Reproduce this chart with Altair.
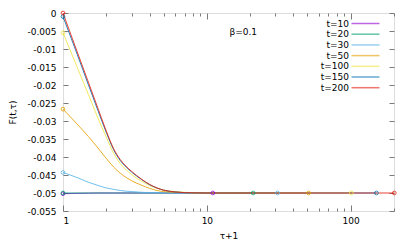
import altair as alt
import pandas as pd

# ---- data ----
t_values = [10, 20, 30, 50, 100, 150, 200]
series_labels = ["t=10", "t=20", "t=30", "t=50", "t=100", "t=150", "t=200"]
series_colors = ["#9400D3", "#009E73", "#56B4E9", "#E69F00", "#F0E442", "#0072B2", "#E51E10"]

# sampled tau+1 positions where the curves were read
x_samples = [1, 1.25, 1.5, 1.75, 2, 2.25, 2.5, 2.75, 3, 3.5, 4, 4.5, 5, 6, 7, 8, 10]

# F(t,tau) read at x_samples for each t; each curve then stays flat up to tau+1 = t+1
F_t10 = [-0.0502, -0.0501, -0.05005, -0.0500, -0.0500, -0.0500, -0.0500, -0.0500, -0.0500,
         -0.0500, -0.0500, -0.0500, -0.0500, -0.0500, -0.0500, -0.0500, -0.0500]
F_t20 = [-0.0500, -0.0500, -0.0500, -0.0500, -0.0500, -0.0500, -0.0500, -0.0500, -0.0500,
         -0.0500, -0.0500, -0.0500, -0.0500, -0.0500, -0.0500, -0.0500, -0.0500]
F_t30 = [-0.0443, -0.0457, -0.0470, -0.0479, -0.0486, -0.0490, -0.0493, -0.0495, -0.0496,
         -0.0498, -0.0499, -0.04993, -0.04995, -0.0500, -0.0500, -0.0500, -0.0500]
F_t50 = [-0.0267, -0.0308, -0.0343, -0.0375, -0.0404, -0.0428, -0.0445, -0.0457, -0.0466,
         -0.0478, -0.0487, -0.0493, -0.0496, -0.0498, -0.0499, -0.04995, -0.0500]
F_t100 = [-0.0055, -0.0149, -0.0226, -0.0292, -0.0345, -0.0390, -0.0418, -0.0436, -0.0449,
          -0.0467, -0.0479, -0.0487, -0.0492, -0.0496, -0.0498, -0.04995, -0.0500]
F_t150 = [-0.0010, -0.0113, -0.0199, -0.0271, -0.0332, -0.0380, -0.0410, -0.0428, -0.0442,
          -0.0462, -0.0477, -0.0486, -0.0492, -0.0497, -0.0499, -0.04995, -0.0500]
F_t200 = [0.0000, -0.0106, -0.0192, -0.0265, -0.0328, -0.0377, -0.0407, -0.0426, -0.0440,
          -0.0461, -0.0476, -0.0486, -0.0492, -0.0497, -0.0499, -0.04995, -0.0500]
F_end = -0.0500
curves = [F_t10, F_t20, F_t30, F_t50, F_t100, F_t150, F_t200]

x_major = [1, 10, 100]
x_minor = [2, 3, 4, 5, 6, 7, 8, 9, 20, 30, 40, 50, 60, 70, 80, 90, 200]
y_ticks = [-0.055, -0.05, -0.045, -0.04, -0.035, -0.03, -0.025, -0.02,
           -0.015, -0.01, -0.005, 0.0]

note_text = ["β=0.1"]
note_x = [17.9]
note_y = [-0.0054]

# ---- build tables ----
rows, ends_rows = [], []
for t, lab, vals in zip(t_values, series_labels, curves):
    for xv, fv in zip(x_samples, vals):
        rows.append({"series": lab, "order": t, "tau1": xv, "F": fv})
    rows.append({"series": lab, "order": t, "tau1": t + 1, "F": F_end})
    ends_rows.append({"series": lab, "order": t, "tau1": x_samples[0], "F": vals[0]})
    ends_rows.append({"series": lab, "order": t, "tau1": t + 1, "F": F_end})
df = pd.DataFrame(rows)
ends = pd.DataFrame(ends_rows)
note = pd.DataFrame({"text": note_text, "x": note_x, "y": note_y})

FONT = "DejaVu Sans"
GRAY = "#7a7a7a"

xscale = alt.Scale(type="log", domain=[1, 200], nice=False)
yscale = alt.Scale(domain=[-0.055, 0], nice=False, zero=False)
color = alt.Color("series:N",
                  scale=alt.Scale(domain=series_labels, range=series_colors),
                  sort=series_labels,
                  legend=alt.Legend(
                      title=None, orient="none", legendX=277, legendY=6,
                      symbolType="M3.5,0H17.5", symbolSize=16, symbolStrokeWidth=1.5,
                      labelAlign="right", labelOffset=0, labelFont=FONT,
                      labelFontSize=9, labelColor="#000", rowPadding=0.7,
                      padding=0, symbolOpacity=0.6))
color_nl = alt.Color("series:N",
                     scale=alt.Scale(domain=series_labels, range=series_colors),
                     legend=None)

def tick_axis(orient, values, size, labels=False, **kw):
    return alt.Axis(orient=orient, values=values, offset=-size, tickSize=size,
                    domain=False, grid=False, labels=labels, tickColor=GRAY,
                    tickWidth=1, **kw)

lines = alt.Chart(df).mark_line(strokeWidth=1, opacity=0.85, interpolate="monotone").encode(
    x=alt.X("tau1:Q", scale=xscale,
            axis=tick_axis("bottom", x_major, 6, labels=True, format="d",
                           labelFont=FONT, labelFontSize=9, labelColor="#000",
                           labelPadding=5, title="τ+1", titleFont=FONT,
                           titleFontSize=9, titleFontWeight="normal",
                           titleColor="#000", titlePadding=6)),
    y=alt.Y("F:Q", scale=yscale,
            axis=tick_axis("left", y_ticks, 5, labels=True,
                           labelExpr="replace(format(datum.value, '.3~f'), '\u2212', '-')",
                           labelFont=FONT, labelFontSize=9, labelColor="#000",
                           labelPadding=7, title="F(t,τ)", titleFont=FONT,
                           titleFontSize=9, titleFontWeight="normal",
                           titleColor="#000", titlePadding=9)),
    color=color,
    detail="order:O",
    order="tau1:Q",
)

points = alt.Chart(ends).mark_point(shape="circle", filled=False, size=14,
                                    strokeWidth=1, opacity=0.8).encode(
    x=alt.X("tau1:Q", scale=xscale, axis=tick_axis("bottom", x_minor, 3, title=None)),
    y=alt.Y("F:Q", scale=yscale, axis=tick_axis("right", y_ticks, 5, title=None)),
    color=color_nl,
)

text = alt.Chart(note).mark_text(font=FONT, fontSize=9, color="#000").encode(
    x=alt.X("x:Q", scale=xscale, axis=tick_axis("top", x_major, 6, title=None)),
    y=alt.Y("y:Q", scale=yscale, axis=None),
    text="text:N",
)

ghost = alt.Chart(ends).mark_point(opacity=0).encode(
    x=alt.X("tau1:Q", scale=xscale, axis=tick_axis("top", x_minor, 3, title=None)),
    y=alt.Y("F:Q", scale=yscale, axis=None),
)

chart = alt.layer(lines, points, text, ghost).resolve_axis(
    x="independent", y="independent"
).properties(
    width=331, height=198,
    autosize=alt.AutoSizeParams(type="none"),
    padding={"left": 55, "top": 5, "right": 12, "bottom": 30},
).configure_view(
    stroke=GRAY, strokeWidth=1.5
).configure(background="white")

chart.save("out.html", embed_options={"renderer": "svg", "actions": False})
